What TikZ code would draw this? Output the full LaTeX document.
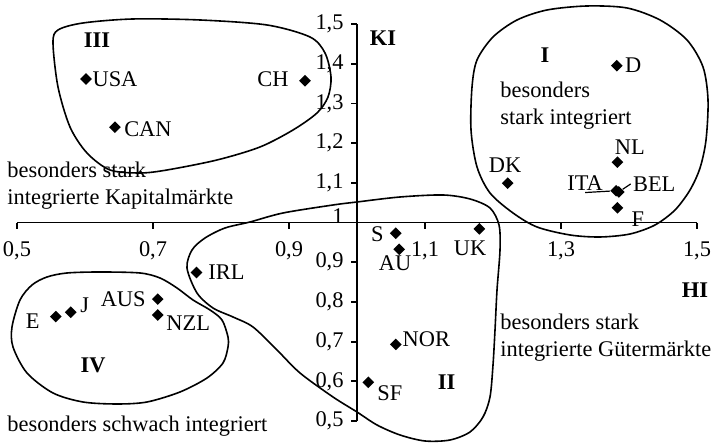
\documentclass[tikz,border=0pt]{standalone}
\usepackage{fontspec}
\setmainfont{Liberation Serif}
\usetikzlibrary{positioning,calc,shapes.geometric}

\begin{document}
\begin{tikzpicture}
[
   x=340pt, y=198.5pt,
   font=\fontsize{11.2}{13.5}\selectfont,
   every node/.style={inner sep=1pt}
]

\tikzset{land/.style = {diamond, fill=black, inner sep=0pt, minimum size=6pt}}
\tikzset{axis/.style = {line width=0.9pt}}
\tikzset{blob/.style = {line width=0.8pt}}
\tikzset{roman/.style = {font=\fontsize{11.2}{13.5}\selectfont\bfseries}}
\tikzset{note/.style = {align=left, inner sep=0pt}}

\useasboundingbox (0.475,0.4471) rectangle (1.525,1.5605);

% axes
\draw[axis] (0.5,1) coordinate (xl) -- (1.5,1) coordinate (xr);
\draw[axis] (1,0.5) coordinate (yb) -- (1,1.5) coordinate (yt);
\foreach \x/\t in {0.5/{0,5},0.7/{0,7},0.9/{0,9},1.1/{1,1},1.3/{1,3},1.5/{1,5}}
   \draw[axis] (\x,1) -- ++(0,-3pt) node[below=5pt] {\t};
\foreach \y/\t in {0.5/{0,5},0.6/{0,6},0.7/{0,7},0.8/{0,8},0.9/{0,9},1.1/{1,1},1.2/{1,2},1.3/{1,3},1.4/{1,4},1.5/{1,5}}
   \draw[axis] (1,\y) -- ++(-3pt,0) node[left=2.3pt] {\t};
\draw[axis] (1,1) -- ++(-3pt,0) node[left=2.3pt, yshift=3pt] {1};
\node[roman] (ki) at (1.0382,1.4648) {KI};
\node[roman] (hi) at (1.497,0.830) {HI};

% groups (drawn in pixel units)
\begin{scope}[shift={(161.5pt,309.76pt)}, x=0.5pt, y=-0.5pt]
\draw[blob] plot[smooth cycle] coordinates {(58,30) (83,23) (133,19) (200,20) (267,25) (310,37) (325,53) (331,77) (328,97) (317,113) (293,130) (260,147) (217,160) (167,170) (140,173) (110,170) (87,153) (70,127) (58,87) (53,43)};
\draw[blob] plot[smooth cycle] coordinates {(472,87) (477,60) (493,37) (517,20) (547,10) (587,6) (627,8) (660,20) (687,40) (703,67) (708,100) (706,140) (700,168) (690,190) (675,210) (655,225) (630,234) (600,237) (570,235) (537,227) (513,213) (490,193) (477,167) (471,130)};
\draw[blob] plot[smooth cycle] coordinates {(187,268) (192,250) (205,238) (225,228) (250,222) (283,213) (333,205) (357,202) (400,197) (443,195) (470,199) (490,208) (499,225) (500,250) (497,290) (495,330) (493,365) (490,397) (483,417) (470,432) (450,440) (425,441) (400,435) (377,425) (357,412) (333,397) (300,373) (277,350) (253,327) (233,317) (213,308) (197,293)};
\draw[blob] plot[smooth cycle] coordinates {(32,285) (47,277) (67,273) (100,272) (140,273) (160,278) (177,288) (193,300) (210,310) (222,320) (228,337) (228,347) (223,363) (207,378) (180,392) (147,402) (117,404) (83,402) (53,393) (27,373) (13,347) (12,327) (20,300)};
\end{scope}

\node[roman] (g1) at (1.2765,1.422) {I};
\node[roman] (g2) at (1.1319,0.599) {II};
\node[roman] (g3) at (0.6176,1.4597) {III};
\node[roman] (g4) at (0.6118,0.6411) {IV};

\node[note, anchor=north west] (kapital) at (0.4853,1.1539) {besonders stark\\integrierte Kapitalmärkte};
\node[note, anchor=north west] (beide) at (1.2103,1.3555) {besonders\\stark integriert};
\node[note, anchor=north west] (gueter) at (1.2103,0.7703) {besonders stark\\integrierte Gütermärkte};
\node[note, anchor=base west] (schwach) at (0.4853,0.4728) {besonders schwach integriert};

% countries
\node[land] (usa) at (0.6015,1.3615) {};
\node[land] (ch)  at (0.9235,1.357) {};
\node[land] (can) at (0.644,1.240) {};
\node[land] (d)   at (1.382,1.395) {};
\node[land] (nl)  at (1.383,1.152) {};
\node[land] (dk)  at (1.2216,1.099) {};
\node[land] (ita) at (1.381,1.080) {};
\node[land] (bel) at (1.385,1.077) {};
\node[land] (f)   at (1.383,1.037) {};
\node[land] (s)   at (1.057,0.973) {};
\node[land] (au)  at (1.062,0.9325) {};
\node[land] (uk)  at (1.180,0.984) {};
\node[land] (irl) at (0.764,0.874) {};
\node[land] (aus) at (0.707,0.807) {};
\node[land] (nzl) at (0.707,0.767) {};
\node[land] (j)   at (0.579,0.774) {};
\node[land] (e)   at (0.557,0.763) {};
\node[land] (nor) at (1.057,0.693) {};
\node[land] (sf)  at (1.0166,0.5975) {};

% labels
\node (usa-l) at ($(usa)+(14.5pt,0pt)$) {USA};
\node (ch-l)  at ($(ch)+(-16pt,0.8pt)$) {CH};
\node (can-l) at ($(can)+(16.5pt,-0.8pt)$) {CAN};
\node (d-l)   at ($(d)+(8.2pt,0pt)$) {D};
\node (nl-l)  at ($(nl)+(6.2pt,7.7pt)$) {NL};
\node (dk-l)  at ($(dk)+(-1.3pt,9.2pt)$) {DK};
\node (ita-l) at ($(ita)+(-15.5pt,4pt)$) {ITA};
\node (bel-l) at ($(bel)+(17.7pt,4pt)$) {BEL};
\node (f-l)   at ($(f)+(10.2pt,-5.7pt)$) {F};
\node (s-l)   at ($(s)+(-9.2pt,-0.3pt)$) {S};
\node (au-l)  at ($(au)+(-2pt,-6.9pt)$) {AU};
\node (uk-l)  at ($(uk)+(-4.7pt,-9.5pt)$) {UK};
\node (irl-l) at ($(irl)+(15pt,0pt)$) {IRL};
\node (aus-l) at ($(aus)+(-17.3pt,0pt)$) {AUS};
\node (nzl-l) at ($(nzl)+(15.2pt,-4pt)$) {NZL};
\node (j-l)   at ($(j)+(7pt,3.7pt)$) {J};
\node (e-l)   at ($(e)+(-11.5pt,-2.5pt)$) {E};
\node (nor-l) at ($(nor)+(15.3pt,2.7pt)$) {NOR};
\node (sf-l)  at ($(sf)+(10.8pt,-5.3pt)$) {SF};

\draw[line width=0.6pt] (ita-l.south) -- (ita);
\draw[line width=0.6pt] (bel-l.west) -- (bel);
\end{tikzpicture}
\end{document}
